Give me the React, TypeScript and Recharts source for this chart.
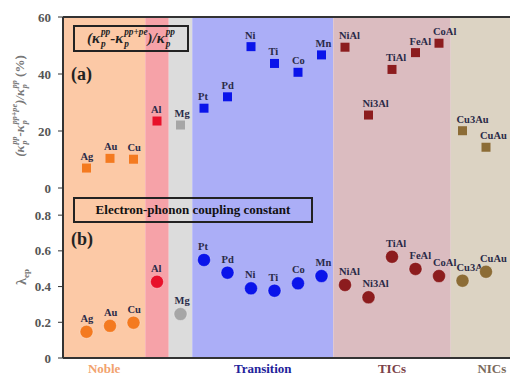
import React from 'react';
import { ScatterChart, Scatter, XAxis, YAxis, ReferenceArea, ReferenceLine } from 'recharts';

const materials = ['Ag', 'Au', 'Cu', 'Al', 'Mg', 'Pt', 'Pd', 'Ni', 'Ti', 'Co', 'Mn', 'NiAl', 'Ni3Al', 'TiAl', 'FeAl', 'CoAl', 'Cu3Au', 'CuAu'];
const groupOf = ['Noble', 'Noble', 'Noble', 'Al', 'Mg', 'Transition', 'Transition', 'Transition', 'Transition', 'Transition', 'Transition', 'TICs', 'TICs', 'TICs', 'TICs', 'TICs', 'NICs', 'NICs'];
// (a) phonon thermal conductivity reduction (%)
const kappaDrop = [7, 10.4, 10.1, 23.5, 22.1, 28, 32, 49.6, 43.7, 40.6, 46.7, 49.4, 25.6, 41.6, 47.5, 50.8, 20.1, 14.3];
// (b) electron-phonon coupling constant
const lambdaEp = [0.147, 0.18, 0.198, 0.427, 0.246, 0.549, 0.478, 0.39, 0.377, 0.418, 0.459, 0.409, 0.34, 0.567, 0.499, 0.459, 0.433, 0.483];

const groupNames = ['Noble', 'Al', 'Mg', 'Transition', 'TICs', 'NICs'];
const groupTitles = ['Noble', 'Transition', 'TICs', 'NICs'];
const kappaTicks = [0, 20, 40, 60];
const lambdaTicks = [0, 0.2, 0.4, 0.6, 0.8];

const X_MIN = -1;
const X_MAX = 19;
const KAPPA_MAX = 60;
const LAMBDA_MAX = 0.952;

const style: Record<string, { bg: string; mark: string; text: string }> = {
  Noble: { bg: '#fcc9a6', mark: '#f47a20', text: '#f2a36e' },
  Al: { bg: '#f6a2a8', mark: '#e8102a', text: '#e8102a' },
  Mg: { bg: '#dcdcdc', mark: '#a6a6a6', text: '#888' },
  Transition: { bg: '#abaef7', mark: '#0a14ea', text: '#22229a' },
  TICs: { bg: '#dbbcc0', mark: '#8c1c1e', text: '#7a4248' },
  NICs: { bg: '#dcd3c3', mark: '#8c6c36', text: '#7a6a5c' },
};

const serif = '"Liberation Serif", "Times New Roman", serif';
const labelColor = '#2a2a48';
const tickStyle = { fontFamily: serif, fontSize: 13, fontWeight: 700, fill: '#555' };

const bands = groupNames.map((g, k) => {
  const first = groupOf.indexOf(g);
  const last = groupOf.lastIndexOf(g);
  return {
    name: g,
    x1: k === 0 ? X_MIN : first - 0.5,
    x2: k === groupNames.length - 1 ? X_MAX : last + 0.5,
  };
});
const titleCenters = groupTitles.map((t) => {
  const b = bands.find((d) => d.name === t)!;
  return (b.x1 + b.x2) / 2;
});

const dataA = materials.map((m, i) => ({ x: i, y: kappaDrop[i], name: m, group: groupOf[i] }));
const dataB = materials.map((m, i) => ({ x: i, y: lambdaEp[i], name: m, group: groupOf[i] }));

const SquareMark = (props: any) => {
  const { cx, cy, payload } = props;
  return (
    <g>
      <rect x={cx - 4.5} y={cy - 4.5} width={9} height={9} fill={style[payload.group].mark} />
      <text x={cx - 6} y={cy - 8} fontFamily={serif} fontSize={10.5} fontWeight={700} fill={labelColor}>
        {payload.name}
      </text>
    </g>
  );
};

const CircleMark = (props: any) => {
  const { cx, cy, payload } = props;
  return (
    <g>
      <circle cx={cx} cy={cy} r={6.5} fill={style[payload.group].mark} stroke="#fff" strokeOpacity={0.3} strokeWidth={1} />
      <text x={cx - 6} y={cy - 10} fontFamily={serif} fontSize={10.5} fontWeight={700} fill={labelColor}>
        {payload.name}
      </text>
    </g>
  );
};

const GroupTick = (props: any) => {
  const { x, y, index } = props;
  const t = groupTitles[index];
  return (
    <text x={x} y={y + 4} textAnchor="middle" dominantBaseline="middle" fontFamily={serif} fontSize={13} fontWeight={700} fill={style[t].text}>
      {t}
    </text>
  );
};

// kappa with a superscript stacked over the subscript p
const Kappa = ({ sup }: { sup: string }) => (
  <span style={{ display: 'inline-flex', alignItems: 'center' }}>
    <span>κ</span>
    <span style={{ display: 'inline-flex', flexDirection: 'column', fontSize: '0.62em', lineHeight: 1.25, marginLeft: 1 }}>
      <span>{sup}</span>
      <span>p</span>
    </span>
  </span>
);

const Formula = () => (
  <span style={{ display: 'inline-flex', alignItems: 'center', fontStyle: 'italic' }}>
    (<Kappa sup="pp" />-<Kappa sup="pp+pe" />)/<Kappa sup="pp" />
  </span>
);

const bandAreas = () =>
  bands.map((b) => (
    <ReferenceArea key={b.name} x1={b.x1} x2={b.x2} fill={style[b.name].bg} fillOpacity={1} stroke="none" />
  ));

export default function App() {
  return (
    <div style={{ position: 'absolute', left: 0, top: 0, width: 510, height: 379, overflow: 'hidden', background: '#fff' }}>
      {/* panel (b) */}
      <div style={{ position: 'absolute', left: 0, top: 188 }}>
        <ScatterChart width={533} height={191} margin={{ top: 0, right: 0, bottom: 0, left: 0 }}>
          <XAxis
            type="number"
            dataKey="x"
            domain={[X_MIN, X_MAX]}
            ticks={titleCenters}
            interval={0}
            tick={<GroupTick />}
            tickLine={false}
            axisLine={{ stroke: '#333', strokeWidth: 2 }}
            height={21}
          />
          <YAxis
            type="number"
            dataKey="y"
            domain={[0, LAMBDA_MAX]}
            ticks={lambdaTicks}
            tickFormatter={(v: number) => (v === 0 ? '0' : v.toFixed(1))}
            tick={tickStyle}
            tickSize={5}
            tickMargin={7}
            tickLine={{ stroke: '#333' }}
            axisLine={{ stroke: '#333', strokeWidth: 2 }}
            width={63}
          />
          {bandAreas()}
          <Scatter data={dataB} shape={<CircleMark />} isAnimationActive={false} />
        </ScatterChart>
      </div>

      {/* panel (a) */}
      <div style={{ position: 'absolute', left: 0, top: 0 }}>
        <ScatterChart width={533} height={200} margin={{ top: 17, right: 0, bottom: 12, left: 0 }}>
          <XAxis type="number" dataKey="x" domain={[X_MIN, X_MAX]} tick={false} tickLine={false} axisLine={{ stroke: '#333', strokeWidth: 2 }} height={0} />
          <YAxis
            type="number"
            dataKey="y"
            domain={[0, KAPPA_MAX]}
            ticks={kappaTicks}
            tick={tickStyle}
            tickSize={5}
            tickMargin={7}
            tickLine={{ stroke: '#333' }}
            axisLine={{ stroke: '#333', strokeWidth: 2 }}
            width={63}
          />
          {bandAreas()}
          <ReferenceLine y={KAPPA_MAX} stroke="#333" strokeWidth={2} />
          <Scatter data={dataA} shape={<SquareMark />} isAnimationActive={false} />
        </ScatterChart>
      </div>

      {/* y-axis titles */}
      <div
        style={{
          position: 'absolute', left: 20 - 80, top: 106 - 12, width: 160, height: 24,
          transform: 'rotate(-90deg)', display: 'flex', justifyContent: 'center', alignItems: 'center',
          fontFamily: serif, fontWeight: 700, fontSize: 13, color: '#777', whiteSpace: 'nowrap',
        }}
      >
        <Formula />&nbsp;(%)
      </div>
      <div
        style={{
          position: 'absolute', left: 22 - 20, top: 277 - 9, width: 40, height: 18,
          transform: 'rotate(-90deg)', display: 'flex', justifyContent: 'center', alignItems: 'center',
          fontFamily: serif, fontWeight: 700, fontSize: 14, color: '#777', whiteSpace: 'nowrap',
        }}
      >
        λ<span style={{ fontSize: 9, position: 'relative', top: 4 }}>ep</span>
      </div>

      {/* panel annotations */}
      <div
        style={{
          position: 'absolute', left: 73, top: 25, width: 112, height: 23, border: '2px solid #222',
          display: 'flex', alignItems: 'center', justifyContent: 'center',
          fontFamily: serif, fontWeight: 700, fontSize: 15, color: '#222', whiteSpace: 'nowrap',
        }}
      >
        <Formula />
      </div>
      <div style={{ position: 'absolute', left: 71, top: 64, fontFamily: serif, fontWeight: 700, fontSize: 18, color: '#222' }}>(a)</div>
      <div
        style={{
          position: 'absolute', left: 73, top: 197, width: 236, height: 22, border: '2px solid #222',
          display: 'flex', alignItems: 'center', justifyContent: 'center',
          fontFamily: serif, fontWeight: 700, fontSize: 13, color: '#111', whiteSpace: 'nowrap',
        }}
      >
        Electron-phonon coupling constant
      </div>
      <div style={{ position: 'absolute', left: 71, top: 229, fontFamily: serif, fontWeight: 700, fontSize: 18, color: '#222' }}>(b)</div>
    </div>
  );
}
